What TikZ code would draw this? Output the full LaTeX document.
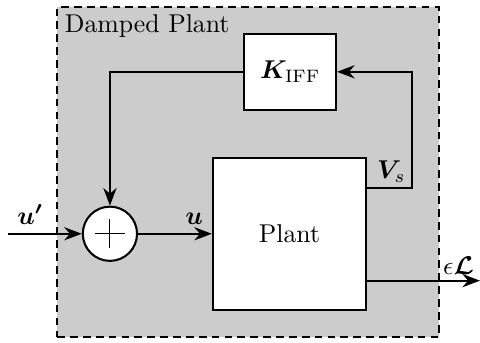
\documentclass[tikz,border=0pt]{standalone}
\usepackage{amsmath, amssymb}
\usepackage{bm}
\usetikzlibrary{positioning, arrows.meta}

\tikzset{block/.style={draw, fill=white, inner sep=0pt},
         sumnode/.style={circle, draw, fill=white, inner sep=0pt, minimum size=0.74cm}}

\begin{document}
\begin{tikzpicture}[thick, >={Stealth[length=2.4mm, width=1.8mm]}]
        \useasboundingbox (0,0) rectangle (6.55,4.68);
        % Frame
        \node[draw, dash pattern=on 3pt off 2pt, fill=black!20, minimum width=5.21cm, minimum height=4.5cm, inner sep=0pt] (damped) at (3.385,2.33) {};
        \node[anchor=north west, inner sep=3pt] (dlabel) at (damped.north west) {Damped Plant};

        % Nodes
        \node[block, minimum width=2.09cm, minimum height=2.07cm] (plant) at (3.95,1.49) {Plant};
        \node[block, minimum width=1.25cm, minimum height=1.04cm] (kiff) at (3.96,3.70) {$\bm{K}_{\text{IFF}}$};
        \node[sumnode] (sum) at (1.50,1.49) {};
        \coordinate (in) at (0.11,1.49);
        \coordinate (fb) at (5.62,2.11);
        \coordinate (out) at (6.55,0.85);

        % Plus sign
        \draw[thin] ([xshift=-0.2cm]sum.center) -- ([xshift=0.2cm]sum.center);
        \draw[thin] ([yshift=-0.2cm]sum.center) -- ([yshift=0.2cm]sum.center);

        % Edges
        \draw[->] (in) -- node[pos=0.3, above] {$\bm{u'}$} (sum.west);
        \draw[->] (sum.east) -- node[pos=0.76, above] {$\bm{u}$} (plant.west);
        \draw[->] (plant.east |- fb) -- (fb) node[above left, inner sep=2pt] {$\bm{V}_s$} |- (kiff.east);
        \draw[->] (kiff.west) -| (sum.north);
        \draw[->] (plant.east |- out) -- (out) node[above left, inner sep=2pt] {$\epsilon\bm{\mathcal{L}}$};
    \end{tikzpicture}
\end{document}
